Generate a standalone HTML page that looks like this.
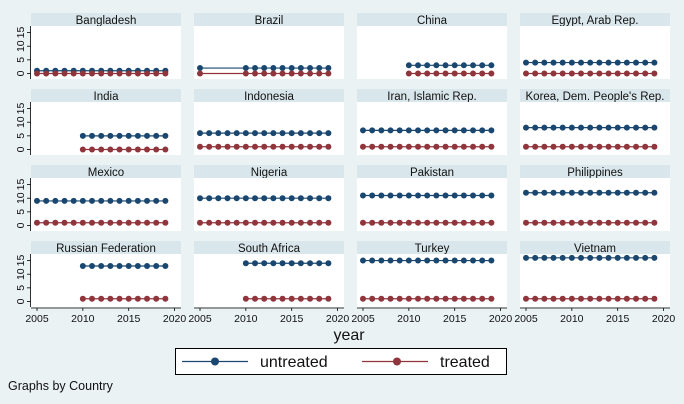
<!DOCTYPE html>
<html><head><meta charset="utf-8"><style>
body{margin:0;background:#eaf2f3;}
svg{display:block;font-family:"Liberation Sans",sans-serif;}
</style></head><body>
<svg id="c" width="684" height="404" viewBox="0 0 684 404"></svg>
<script>
const countries=["Bangladesh","Brazil","China","Egypt, Arab Rep.","India","Indonesia","Iran, Islamic Rep.","Korea, Dem. People's Rep.","Mexico","Nigeria","Pakistan","Philippines","Russian Federation","South Africa","Turkey","Vietnam"];
const untreatedVals=[1,2,3,4,5,6,7,8,9,10,11,12,13,14,15,16];
const treatedVals=[0,0,0,0,0,1,1,1,1,1,1,1,1,1,1,1];
const startYears=[2005,2005,2010,2005,2010,2005,2005,2005,2005,2005,2005,2005,2010,2010,2005,2005];
const brazilExtraYears=[2005];
const xTicks=[2005,2010,2015,2020];
const yTicks=[0,5,10,15];
const endYear=2019;
const NS="http://www.w3.org/2000/svg";
const svg=document.getElementById('c');
function mk(t,a,p){const e=document.createElementNS(NS,t);for(const k in a)e.setAttribute(k,a[k]);(p||svg).appendChild(e);return e;}
const colX0=[31,194,357,520], pw=150, rowTop=[13,89,165,241], hh=13;
function xs(col,yr){return colX0[col]+6+(yr-2005)*9.17;}
function ys(row,v){return rowTop[row]+60.5-v*2.73;}
countries.forEach((name,i)=>{
  const col=i%4,row=Math.floor(i/4);
  const g=mk('g',{});
  
  
  mk('rect',{x:colX0[col],y:rowTop[row],width:pw,height:hh,fill:'#d9e6eb'},g);
  const t=mk('text',{x:colX0[col]+pw/2,y:rowTop[row]+11,'text-anchor':'middle','font-size':11.5,fill:'#111'},g);t.textContent=name;
  mk('rect',{x:colX0[col],y:rowTop[row]+hh,width:pw,height:53,fill:'#fff'},g);
  if(col===0){
    mk('line',{x1:30.5,x2:30.5,y1:rowTop[row]+hh,y2:rowTop[row]+66,stroke:'#000','stroke-width':0.8},g);
    yTicks.forEach(v=>{const y=ys(row,v);mk('line',{x1:27,x2:30.5,y1:y,y2:y,stroke:'#000','stroke-width':0.8},g);
      const tt=mk('text',{x:0,y:0,transform:`translate(24,${y}) rotate(-90)`,'text-anchor':'middle','font-size':10.5,fill:'#111'},g);tt.textContent=v;});
  }
  if(row===3){
    const ya=rowTop[row]+67;
    mk('line',{x1:colX0[col],x2:colX0[col]+pw,y1:ya,y2:ya,stroke:'#000','stroke-width':0.8},g);
    xTicks.forEach(v=>{const x=xs(col,v);mk('line',{x1:x,x2:x,y1:ya,y2:ya+3,stroke:'#000','stroke-width':0.8},g);
      const tt=mk('text',{x:x,y:ya+14,'text-anchor':'middle','font-size':10.5,fill:'#111'},g);tt.textContent=v;});
  }
  [[untreatedVals[i],'#1a476f','untreated'],[treatedVals[i],'#90353b','treated']].forEach(([v,c,s])=>{
    let yrs=[];for(let y=startYears[i];y<=endYear;y++)yrs.push(y);
    if(name==="Brazil"){yrs=brazilExtraYears.concat(yrs.filter(y=>y>=2010));}
    const y=ys(row,v);
    const ln=mk('line',{x1:xs(col,yrs[0]),x2:xs(col,yrs[yrs.length-1]),y1:y,y2:y,stroke:c,'stroke-width':1.2},g);
    
    
    yrs.forEach(yr=>{const d=mk('circle',{cx:xs(col,yr),cy:y,r:3,fill:c},g);
      
      });
  });
});
</script>
<svg style="position:absolute;left:0;top:0" width="684" height="404">
<text x="349" y="340" text-anchor="middle" font-size="16" fill="#111">year</text>
<g>
<rect x="175.5" y="348.5" width="331" height="26" fill="#fff" stroke="#000" stroke-width="1"/>
<line x1="182" x2="248" y1="361.5" y2="361.5" stroke="#1a476f" stroke-width="1.2"/>
<circle cx="215" cy="361.5" r="4" fill="#1a476f"/>
<text x="260" y="367" font-size="16" fill="#111">untreated</text>
<line x1="362" x2="428" y1="361.5" y2="361.5" stroke="#90353b" stroke-width="1.2"/>
<circle cx="397" cy="361.5" r="4" fill="#90353b"/>
<text x="440" y="367" font-size="16" fill="#111">treated</text>
</g>
<text x="8" y="390" font-size="12.5" fill="#111">Graphs by Country</text>
</svg>
</body></html>
